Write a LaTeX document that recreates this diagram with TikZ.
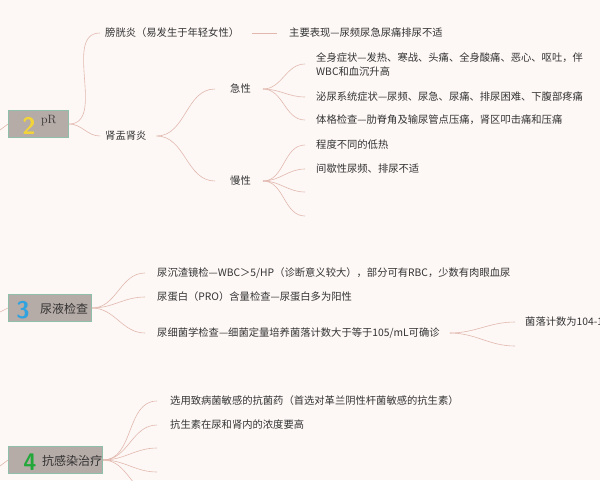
\documentclass[tikz,border=0pt]{standalone}
\usepackage{fontspec}
\newfontfamily\cjk{Noto Sans CJK SC}
\definecolor{bg}{HTML}{FDF8F6}
\definecolor{boxf}{HTML}{B5ABA7}
\definecolor{boxd}{HTML}{8FBFAA}
\definecolor{ln}{HTML}{E2B8AE}
\definecolor{txt}{HTML}{333333}
\definecolor{yel}{HTML}{F2D43A}
\definecolor{blu}{HTML}{2EA3E0}
\definecolor{grn}{HTML}{22A83A}
\begin{document}
\begin{tikzpicture}[x=1pt,y=-1pt,
  lbl/.style={anchor=west,inner sep=0pt,font=\cjk\fontsize{10.3}{14}\selectfont,text=txt,align=left},
  topic/.style={draw=boxd,line width=1pt,fill=boxf,minimum height=27pt,inner sep=3pt,anchor=west,font=\cjk\fontsize{11}{13}\selectfont,text=txt},
  br/.style={draw=ln,line width=0.6pt},
  num/.style={font=\sffamily\bfseries\fontsize{24}{24}\selectfont}]
\path[fill=bg] (0,0) rectangle (600,480);
\begin{scope}
\clip (0,0) rectangle (600,480);
% topic 2
\node[topic,minimum width=60pt] (t2) at (8,124) {};
\node[num,text=yel] (n2) at (29,126) {2};
\node[lbl,font=\fontsize{12}{14}\selectfont] (p2) at (41,121) {pR};
\node[lbl] (a1) at (105,33) {膀胱炎（易发生于年轻女性）};
\node[lbl] (a1x) at (289,33) {主要表现—尿频尿急尿痛排尿不适};
\node[lbl] (a2) at (105,136) {肾盂肾炎};
\node[lbl] (j) at (230,89) {急性};
\node[lbl] (m) at (230,181) {慢性};
\node[lbl] (j1) at (316,65) {全身症状—发热、寒战、头痛、全身酸痛、恶心、呕吐，伴\\WBC和血沉升高};
\node[lbl] (j2) at (316,97) {泌尿系统症状—尿频、尿急、尿痛、排尿困难、下腹部疼痛};
\node[lbl] (j3) at (316,120) {体格检查—肋脊角及输尿管点压痛，肾区叩击痛和压痛};
\node[lbl] (m1) at (316,145) {程度不同的低热};
\node[lbl] (m2) at (316,169) {间歇性尿频、排尿不适};
\coordinate (t2l) at (0,130);
\draw[br] (t2l) -- (t2.west);
\draw[br] (t2.east) to[out=0,in=180] ([xshift=-5pt]a1.west);
\draw[br] (t2.east) to[out=0,in=180] ([xshift=-5pt]a2.west);
\draw[br] ([xshift=13pt]a1.east) -- ([xshift=-12pt]a1x.west);
\draw[br] ([xshift=10pt]a2.east) to[out=0,in=180] ([xshift=-15pt]j.west);
\draw[br] ([xshift=10pt]a2.east) to[out=0,in=180] ([xshift=-15pt]m.west);
\foreach \y in {64,97,120}{
  \draw[br] ([xshift=12pt]j.east) to[out=0,in=180] (305,\y);}
\foreach \y in {145,169,192,216}{
  \draw[br] ([xshift=12pt]m.east) to[out=0,in=180] (305,\y);}
% topic 3
\node[topic,minimum width=83pt] (t3) at (8,308) {};
\node[num,text=blu] (n3) at (23,310) {3};
\node[lbl,font=\cjk\fontsize{12}{14}\selectfont] (l3) at (40,309) {尿液检查};
\node[lbl] (b1) at (157,273) {尿沉渣镜检—WBC＞5/HP（诊断意义较大），部分可有RBC，少数有肉眼血尿};
\node[lbl] (b2) at (157,297) {尿蛋白（PRO）含量检查—尿蛋白多为阳性};
\node[lbl] (b3) at (157,333) {尿细菌学检查—细菌定量培养菌落计数大于等于105/mL可确诊};
\node[lbl] (c1) at (525,322) {菌落计数为104-105/mL为可疑阳性};
\coordinate (c2) at (515,346);
\coordinate (t3l) at (0,312);
\draw[br] (t3l) -- (t3.west);
\foreach \n in {b1,b2,b3}{\draw[br] (t3.east) to[out=0,in=180] ([xshift=-12pt]\n.west);}
\draw[br] ([xshift=10pt]b3.east) to[out=0,in=180] ([xshift=-10pt]c1.west);
\draw[br] ([xshift=10pt]b3.east) to[out=0,in=180] (c2);
% topic 4
\node[topic,minimum width=94pt] (t4) at (8,460) {};
\node[num,text=grn] (n4) at (30,462) {4};
\node[lbl,font=\cjk\fontsize{12}{14}\selectfont] (l4) at (42,461) {抗感染治疗};
\node[lbl] (d1) at (170,401) {选用致病菌敏感的抗菌药（首选对革兰阴性杆菌敏感的抗生素）};
\node[lbl] (d2) at (170,425) {抗生素在尿和肾内的浓度要高};
\coordinate (d3) at (157,448);
\coordinate (d4) at (157,472);
\coordinate (d5) at (157,496);
\coordinate (t4l) at (0,466);
\draw[br] (t4l) -- (t4.west);
\foreach \n in {d1,d2}{\draw[br] (t4.east) to[out=0,in=180] ([xshift=-13pt]\n.west);}
\foreach \n in {d3,d4,d5}{\draw[br] (t4.east) to[out=0,in=180] (\n);}
\end{scope}
\useasboundingbox (0,0) rectangle (600,480);
\end{tikzpicture}
\end{document}
